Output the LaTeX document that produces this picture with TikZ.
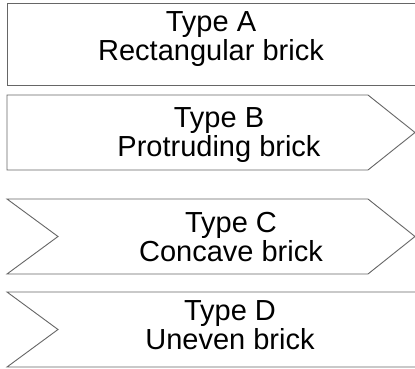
\documentclass[tikz,border=0pt]{standalone}
\usepackage{fontspec}
\setmainfont{Liberation Sans}
\begin{document}
\begin{tikzpicture}[x=1pt,y=-1pt,
  brick/.style={draw=black!60, line width=0.9pt, line join=miter},
  label/.style={align=center, font=\fontsize{29}{29}\selectfont, inner sep=0pt}]
\useasboundingbox (0,0) rectangle (415,369);
\fill[white] (0,0) rectangle (415,369);
% Type A
\draw[brick] (416,3) -- (7,3) -- (7,85) -- (416,85);
\node[label] (a) at (211,39) {Type A\\Rectangular brick};
% Type B
\draw[brick] (7,95) -- (368,95) -- (415,132.5) -- (368,170) -- (7,170) -- cycle;
\node[label] (b) at (219,135) {Type B\\Protruding brick};
% Type C
\draw[brick] (7,199) -- (368,199) -- (415,236.5) -- (368,274) -- (7,274) -- (58,236.5) -- cycle;
\node[label] (c) at (231,237) {Type C\\Concave brick};
% Type D
\draw[brick] (416,292) -- (7,292) -- (58,329.5) -- (7,367) -- (416,367);
\node[label] (d) at (230,325) {Type D\\Uneven brick};
\end{tikzpicture}
\end{document}
